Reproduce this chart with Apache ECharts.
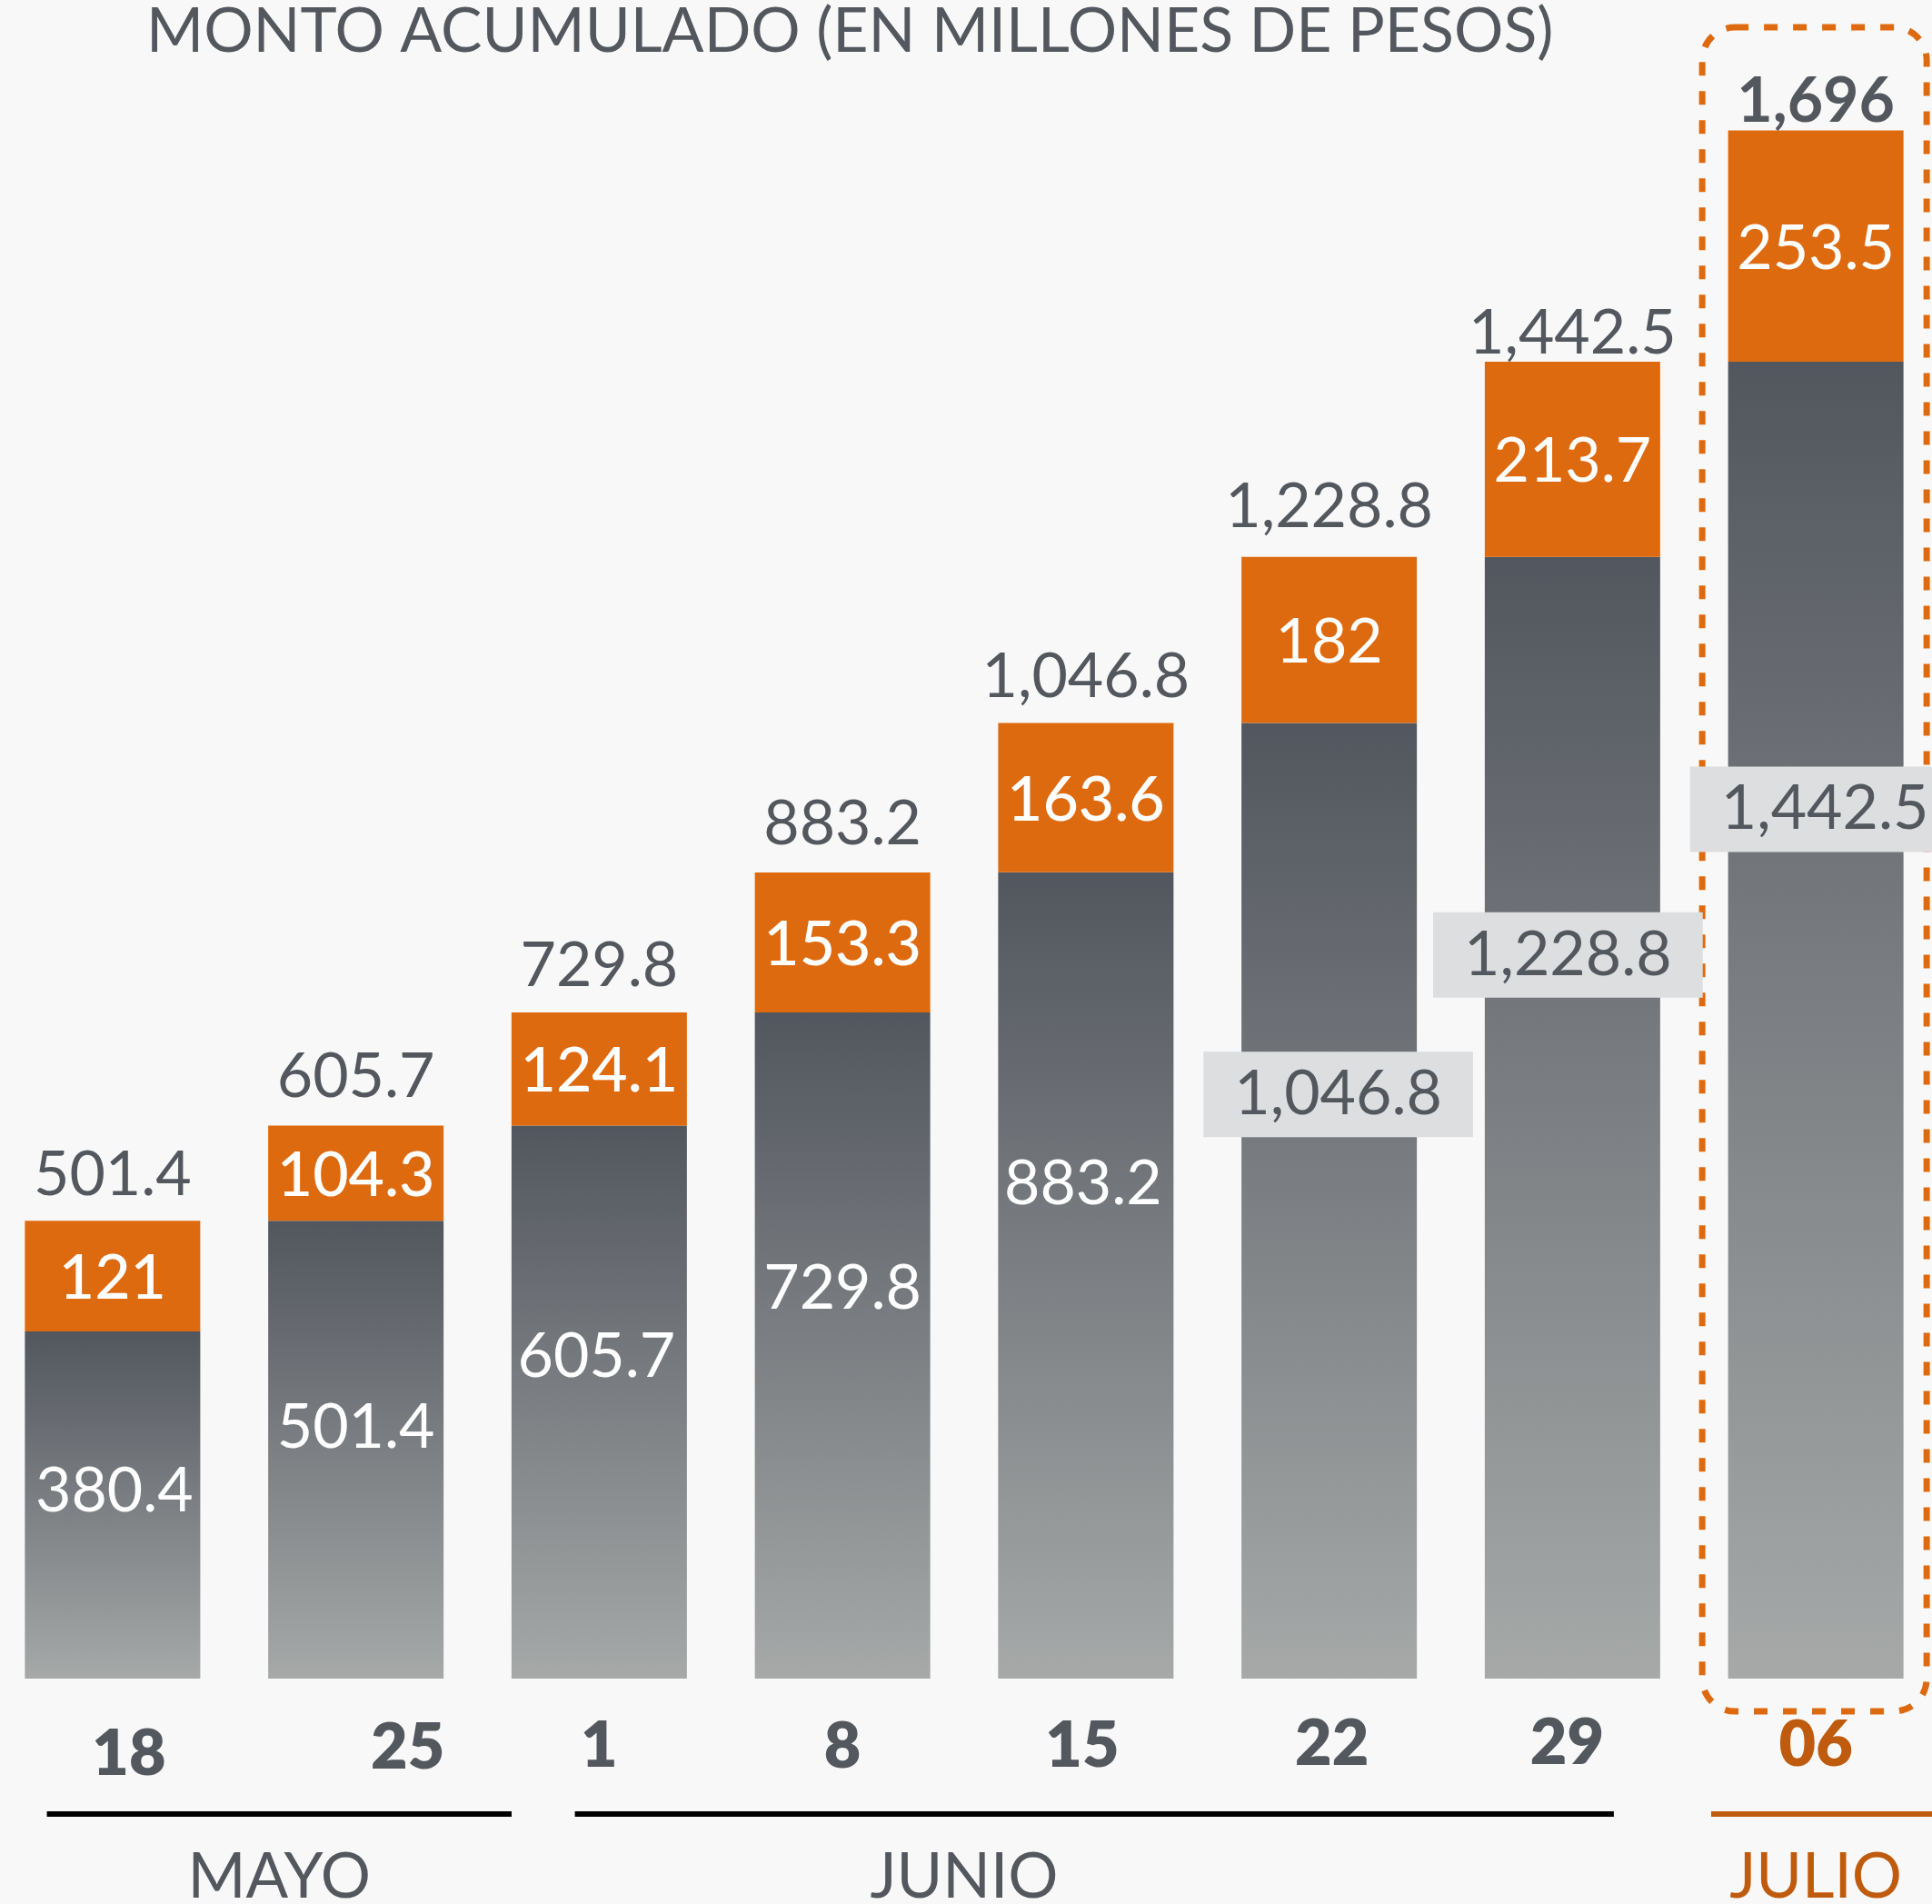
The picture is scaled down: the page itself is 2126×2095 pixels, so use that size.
<!DOCTYPE html>
<html>
<head>
<meta charset="utf-8">
<title>Monto acumulado</title>
<script src="https://cdn.jsdelivr.net/npm/echarts@6/dist/echarts.min.js"></script>
<style>
    html, body { margin: 0; padding: 0; background: #f8f8f8; overflow: hidden; }
    #main { width: 2142px; height: 2095px; margin-left: -10px; }
</style>
</head>
<body>
<div id="main"></div>
<script type="text/javascript">
    // fechas del eje x
    var dias = ['18', '25', '1', '8', '15', '22', '29', '06'];
    // acumulado de la semana anterior (barra gris)
    var anterior = [380.4, 501.4, 605.7, 729.8, 883.2, 1046.8, 1228.8, 1442.5];
    // incremento de la semana (barra naranja)
    var incremento = [121, 104.3, 124.1, 153.3, 163.6, 182, 213.7, 253.5];
    // total acumulado (etiqueta arriba de cada barra)
    var acumulado = [501.4, 605.7, 729.8, 883.2, 1046.8, 1228.8, 1442.5, 1696];
    // meses debajo de las fechas
    var meses = ['MAYO', 'JUNIO', 'JULIO'];

    // --- ajustes de diseño (posiciones y estilos, no datos) ---
    var GRIS = '#53575e', NARANJA = '#de6a10', NARANJA_OSC = '#bf5b0e';
    var FUENTE = 'Lato';
    // desplazamiento de la etiqueta gris respecto al centro del tramo gris
    var despGris = [[2, -15], [0, -24], [-3, -50], [0, -62], [-3, -100], [10, -117], [-5, -179], [10, -232]];
    // distancia de la etiqueta del total sobre la barra
    var distTotal = [15, 18, 15, 17, 15, 19, -4, -4];
    // desplazamiento de las fechas [dx, dy]
    var despDia = [[18, 24], [57, 10], [0, 6], [0, 9], [-4, 7], [3, 2], [-6, 0], [0, 5]];
    // lineas de mes en unidades de categoria [inicio, fin] y centro del texto
    var mesLinea = [[-0.27, 1.64], [1.9, 6.17], [6.57, 7.6]];
    var mesCentro = [0.685, 3.5, 7];
    var mesColor = ['#000000', '#000000', NARANJA_OSC];
    var mesTexto = [GRIS, GRIS, NARANJA_OSC];

    function fmt(v) {
        return v.toLocaleString('en-US');
    }

    var myChart = echarts.init(document.getElementById('main'));

    var degradado = new echarts.graphic.LinearGradient(0, 0, 0, 1, [
        {offset: 0, color: '#52565e'},
        {offset: 1, color: '#a6a9a8'}
    ]);

    var datosGris = anterior.map(function (v, i) {
        var caja = i >= 5;
        return {
            value: v,
            label: {
                offset: despGris[i],
                color: caja ? GRIS : '#ffffff',
                backgroundColor: caja ? '#dddedf' : 'transparent',
                padding: caja ? [12, 34] : 0
            }
        };
    });

    var datosNaranja = incremento.map(function (v, i) {
        return {
            value: v,
            label: {fontWeight: i < 5 ? 500 : 'normal'}
        };
    });

    var datosTotal = acumulado.map(function (v, i) {
        return {
            value: v,
            label: {
                distance: distTotal[i],
                fontWeight: i === acumulado.length - 1 ? 'bold' : 'normal'
            }
        };
    });

    var rich = {};
    dias.forEach(function (d, i) {
        var dx = despDia[i][0], dy = despDia[i][1];
        rich['d' + i] = {
            fontFamily: FUENTE,
            fontSize: 70,
            fontWeight: 800,
            lineHeight: 70,
            color: i === dias.length - 1 ? NARANJA_OSC : GRIS,
            padding: [dy, dx < 0 ? -2 * dx : 0, 0, dx > 0 ? 2 * dx : 0]
        };
    });

    option = {
        animation: false,
        backgroundColor: '#f8f8f8',
        title: {
            text: 'MONTO ACUMULADO (EN MILLONES DE PESOS)',
            left: 166,
            top: -4,
            textStyle: {
                fontFamily: FUENTE,
                fontSize: 68,
                fontWeight: 'normal',
                color: GRIS
            }
        },
        grid: {
            left: 0,
            right: 0,
            top: 39,
            bottom: 248
        },
        xAxis: {
            type: 'category',
            data: dias,
            axisLine: {show: false},
            axisTick: {show: false},
            axisLabel: {
                margin: 36,
                interval: 0,
                formatter: function (value, index) {
                    return '{d' + index + '|' + value + '}';
                },
                rich: rich
            }
        },
        yAxis: {
            type: 'value',
            min: 0,
            max: 1800,
            show: false
        },
        series: [
            {
                name: 'Anterior',
                type: 'bar',
                stack: 'monto',
                barWidth: 193,
                data: datosGris,
                itemStyle: {color: degradado},
                label: {
                    show: true,
                    position: 'inside',
                    fontFamily: FUENTE,
                    fontSize: 68,
                    fontWeight: 'normal',
                    lineHeight: 70,
                    formatter: function (p) { return fmt(p.value); }
                }
            },
            {
                name: 'Incremento',
                type: 'bar',
                stack: 'monto',
                barWidth: 193,
                data: datosNaranja,
                itemStyle: {color: NARANJA},
                label: {
                    show: true,
                    position: 'inside',
                    offset: [0, 3],
                    color: '#ffffff',
                    fontFamily: FUENTE,
                    fontSize: 68,
                    formatter: function (p) { return fmt(p.value); }
                }
            },
            {
                name: 'Total',
                type: 'scatter',
                data: datosTotal,
                symbolSize: 1,
                silent: true,
                itemStyle: {color: 'rgba(0,0,0,0)'},
                label: {
                    show: true,
                    position: 'top',
                    color: GRIS,
                    opacity: 1,
                    fontFamily: FUENTE,
                    fontSize: 68,
                    lineHeight: 70,
                    formatter: function (p) { return fmt(p.value); }
                }
            }
        ]
    };

    myChart.setOption(option);

    // lineas y nombres de mes, recuadro punteado de julio
    var x0 = myChart.convertToPixel({xAxisIndex: 0}, 0);
    var banda = myChart.convertToPixel({xAxisIndex: 0}, 1) - x0;
    function xCat(c) { return x0 + c * banda; }

    var elementos = [];
    meses.forEach(function (m, i) {
        var a = xCat(mesLinea[i][0]), b = xCat(mesLinea[i][1]);
        elementos.push({
            type: 'rect',
            shape: {x: a, y: 1993, width: b - a, height: 6},
            style: {fill: mesColor[i]}
        });
        elementos.push({
            type: 'text',
            x: xCat(mesCentro[i]),
            y: 2066,
            style: {
                text: m,
                fill: mesTexto[i],
                fontFamily: FUENTE,
                fontSize: 69,
                align: 'center',
                verticalAlign: 'middle'
            }
        });
    });
    var cx = xCat(7);
    elementos.push({
        type: 'rect',
        shape: {x: cx - 125, y: 30, width: 247, height: 1853, r: 36},
        style: {fill: 'none', stroke: NARANJA, lineWidth: 7, lineDash: [15, 17]}
    });
    myChart.setOption({graphic: elementos});
</script>
</body>
</html>
